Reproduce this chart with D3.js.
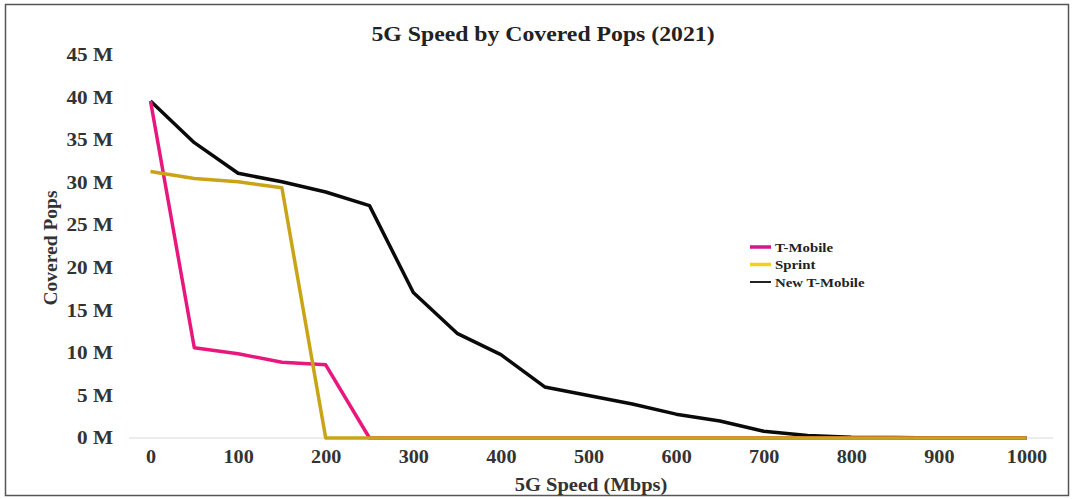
<!DOCTYPE html>
<html><head><meta charset="utf-8">
<script src="https://cdn.jsdelivr.net/npm/d3@7"></script>
<style>body{margin:0;background:#fff}svg{display:block}</style>
</head><body>
<script>
const speeds = [0,50,100,150,200,250,300,350,400,450,500,550,600,650,700,750,800,850,900,950,1000];
const tMobile =    [39.6,10.6,9.9,8.9,8.6,0,0,0,0,0,0,0,0,0,0,0,0,0,0,0,0];
const sprint =     [31.3,30.5,30.1,29.4,0,0,0,0,0,0,0,0,0,0,0,0,0,0,0,0,0];
const newTMobile = [39.6,34.7,31.1,30.1,28.9,27.3,17.1,12.3,9.8,6.0,5.0,4.0,2.8,2.0,0.8,0.3,0.1,0.05,0,0,0];
const yTicks = [0,5,10,15,20,25,30,35,40,45];
const xTicks = [0,100,200,300,400,500,600,700,800,900,1000];
const seriesNames = ["T-Mobile","Sprint","New T-Mobile"];

const W=1080,H=499;
const svg=d3.select("body").append("svg").attr("width",W).attr("height",H);
const font="'Liberation Serif','Times New Roman',serif";

svg.append("rect").attr("x",5.5).attr("y",4.5).attr("width",1063).attr("height",491)
  .attr("fill","#fff").attr("stroke","#555").attr("stroke-width",1.5);

const x=d3.scaleLinear().domain([0,1000]).range([150.5,1026.5]);
const y=d3.scaleLinear().domain([0,45]).range([438,55]);

// zero line
svg.append("line").attr("x1",129).attr("x2",1053).attr("y1",y(0)).attr("y2",y(0))
  .attr("stroke","#d9d9d9").attr("stroke-width",1);

// axes (labels only)
const yAxis=d3.axisLeft(y).tickValues(yTicks).tickFormat(d=>d+" M").tickSize(0).tickPadding(0);
const gy=svg.append("g").attr("transform","translate(113,0)").call(yAxis);
gy.select(".domain").remove();
gy.selectAll("text").attr("font-family",font).attr("font-weight","bold").attr("font-size",18)
  .attr("fill","#333").attr("transform","scale(1.18,1)");

const xAxis=d3.axisBottom(x).tickValues(xTicks).tickFormat(d3.format("d")).tickSize(0).tickPadding(0);
const gx=svg.append("g").attr("transform","translate(0,450)").call(xAxis);
gx.select(".domain").remove();
gx.selectAll("text").attr("font-family",font).attr("font-weight","bold").attr("font-size",18)
  .attr("fill","#333").attr("transform","scale(1.12,1)");

// titles
svg.append("text").attr("transform","translate(543,41) scale(1.08,1)").attr("text-anchor","middle")
  .attr("font-family",font).attr("font-weight","bold").attr("font-size",22).attr("fill","#222")
  .text("5G Speed by Covered Pops (2021)");
svg.append("text").attr("transform","translate(591,491) scale(1.14,1)").attr("text-anchor","middle")
  .attr("font-family",font).attr("font-weight","bold").attr("font-size",18).attr("fill","#333")
  .text("5G Speed (Mbps)");
svg.append("text").attr("transform","translate(57,248) rotate(-90)").attr("text-anchor","middle")
  .attr("font-family",font).attr("font-weight","bold").attr("font-size",19.5).attr("fill","#333")
  .text("Covered Pops");

const line=d3.line().x((d,i)=>x(speeds[i])).y(d=>y(d));
const series=[
  {name:seriesNames[2],vals:newTMobile,color:"#0a0a0a",legend:"#222"},
  {name:seriesNames[0],vals:tMobile,color:"#e8177d",legend:"#d5168f"},
  {name:seriesNames[1],vals:sprint,color:"#c9a416",legend:"#f2d21a"}
];
series.forEach(s=>{
  svg.append("path").attr("d",line(s.vals)).attr("fill","none")
    .attr("stroke",s.color).attr("stroke-width",3.5).attr("stroke-linejoin","round");
});

// legend
const leg=[series[1],series[2],series[0]];
leg.forEach((s,i)=>{
  const yy=247+i*17.5;
  svg.append("line").attr("x1",750).attr("x2",771).attr("y1",yy).attr("y2",yy)
    .attr("stroke",s.legend).attr("stroke-width",i===2?2:3.5);
  svg.append("text").attr("transform",`translate(775,${yy+4.5}) scale(1.1,1)`).attr("font-family",font).attr("font-weight","bold")
    .attr("font-size",13.5).attr("fill","#222").text(s.name);
});
</script>
</body></html>
